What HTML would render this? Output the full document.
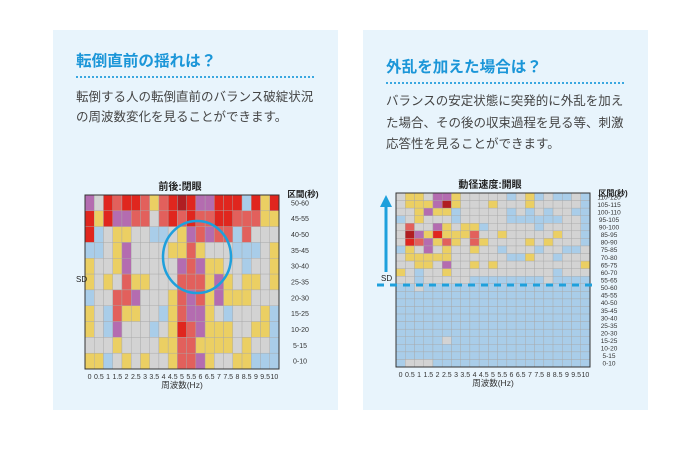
<!DOCTYPE html>
<html><head><meta charset="utf-8">
<style>
html,body{margin:0;padding:0;background:#fff;width:700px;height:450px;overflow:hidden}
body{position:relative;font-family:"Liberation Sans","Noto Sans CJK JP",sans-serif}
.panel{position:absolute;top:30px;width:285px;height:380px;background:#e8f4fc}
.t{position:absolute;font-size:15.6px;font-weight:bold;color:#1b96d8;white-space:nowrap;line-height:20px}
.dl{position:absolute;height:0;border-top:2px dotted #3aa7e0}
.b{position:absolute;font-size:12.5px;color:#444;line-height:20px;white-space:nowrap}
svg{position:absolute;left:0;top:0}
</style></head><body>
<div class="panel" style="left:53px"></div>
<div class="panel" style="left:363px"></div>
<div class="t" style="left:76px;top:52px">転倒直前の揺れは？</div>
<div class="dl" style="left:76px;width:238px;top:76px"></div>
<div class="b" style="left:76px;top:87px">転倒する人の転倒直前のバランス破綻状況<br>の周波数変化を見ることができます。</div>
<div class="t" style="left:386px;top:58px">外乱を加えた場合は？</div>
<div class="dl" style="left:386px;width:238px;top:82px"></div>
<div class="b" style="left:386px;top:91px;line-height:21.5px">バランスの安定状態に突発的に外乱を加え<br>た場合、その後の収束過程を見る等、刺激<br>応答性を見ることができます。</div>
<svg id="s" width="700" height="450"></svg>
<script>
var C={R:"#e0261e",r:"#e2605c",P:"#b46cb0",Y:"#ebcf63",G:"#d3d3d3",B:"#a9cde9",D:"#b01e22"};
var L=["PGRrRRrYrRDRPPRRRBRYR","RYRPPrrGrRrRrrRRrrrYY","RBGYYGGBBGYPrPrrBrGGG","BBGYPGGGGYYrYGGGBBBGY","YGGYPGGGGGPrPYYGGBGGY","YGYGrYYGGGrrrYPYGYYGY","BGGrrPGGGYrPrYPYYYGGG","YGBrYYGGBYrPPYGBGGGYB","YGBPGGGBGYRrPYYYGGYYB","GGGYGGGGYYrrYYYYGYGGB","YYBGYGYGGYrrPYGGYYBBB"];
var Rr=["GYYGPPYGGGGGBGYBGBBGB","GYYYPDYGGGYGGGYGGGGGB","GGYPYYBGGGGGBGBGBGGBB","BGYGGGBGGGGGBBBBBBGGB","GrGGPYGYYBGGGGGBGGGGB","GDPYRYYYrGGYGGGGGYGGB","GRrPYrYGrYGGGGYGYGGGB","BYGPGYGGYGGBGGGBGGBBG","GYYYYYGGGGGGBBYGGBGGG","GGYYGPGGYGYGGGGGGGGGY","YGBGGYGGGGGGGGGGGBGGG","GGBGGGGGBBBBBBBBGBBBB","BBGBBBBBBBBBBBBBBBBBB"];
for(var i=0;i<9;i++)Rr.push("BBBBBBBBBBBBBBBBBBBBB");
Rr[19]="BBBBBGBBBBBBBBBBBBBBB";
Rr.push("BGGGBBBBBBBBBBBBBBBBB");
var h="";
function grid(d,x0,y0,w,hh){var n=d.length,cw=w/21,ch=hh/n;
for(var j=0;j<n;j++)for(var i=0;i<21;i++)h+='<rect x="'+(x0+i*cw).toFixed(2)+'" y="'+(y0+j*ch).toFixed(2)+'" width="'+cw.toFixed(2)+'" height="'+ch.toFixed(2)+'" fill="'+C[d[j][i]]+'" stroke="#a8a8a8" stroke-width="0.4"/>';
h+='<rect x="'+x0+'" y="'+y0+'" width="'+w+'" height="'+hh+'" fill="none" stroke="#333" stroke-width="1"/>';
var xl=["0","0.5","1","1.5","2","2.5","3","3.5","4","4.5","5","5.5","6","6.5","7","7.5","8","8.5","9","9.5","10"];
for(var i=0;i<21;i++)h+='<text x="'+(x0+(i+0.5)*cw)+'" y="'+(y0+hh+10)+'" font-size="7" text-anchor="middle" fill="#333">'+xl[i]+'</text>';
h+='<text x="'+(x0+w/2)+'" y="'+(y0+hh+19)+'" font-size="8.5" text-anchor="middle" fill="#333">周波数(Hz)</text>';
}
grid(L,85,195,194,174);
grid(Rr,396,193,194,174);
var ll=["50-60","45-55","40-50","35-45","30-40","25-35","20-30","15-25","10-20","5-15","0-10"];
for(var j=0;j<11;j++)h+='<text x="300" y="'+(195+(j+0.5)*174/11+2.5)+'" font-size="7" text-anchor="middle" fill="#333">'+ll[j]+'</text>';
for(var j=0;j<23;j++){var a=(22-j)*5;h+='<text x="609" y="'+(193+(j+0.5)*174/23+2.5)+'" font-size="6.5" text-anchor="middle" fill="#333">'+a+'-'+(a+10)+'</text>';}
h+='<text x="180" y="190" font-size="10" font-weight="bold" text-anchor="middle" fill="#222">前後:閉眼</text>';
h+='<text x="490" y="188" font-size="10" font-weight="bold" text-anchor="middle" fill="#222">動径速度:開眼</text>';
h+='<text x="303" y="197" font-size="8.5" font-weight="bold" text-anchor="middle" fill="#222">区間(秒)</text>';
h+='<text x="613" y="196" font-size="8" font-weight="bold" text-anchor="middle" fill="#222">区間(秒)</text>';
h+='<text x="76" y="282" font-size="8" fill="#222">SD</text>';
h+='<text x="381" y="281" font-size="8" fill="#222">SD</text>';
h+='<ellipse cx="197" cy="257" rx="34" ry="36" fill="none" stroke="#1ea0dc" stroke-width="2.5"/>';
h+='<line x1="386" y1="272" x2="386" y2="206" stroke="#1ea0dc" stroke-width="3"/>';
h+='<polygon points="380,207 392,207 386,195" fill="#1ea0dc"/>';
h+='<line x1="377" y1="285" x2="598" y2="285" stroke="#1ea0dc" stroke-width="3" stroke-dasharray="7,6"/>';
document.getElementById("s").innerHTML=h;
</script>
</body></html>
